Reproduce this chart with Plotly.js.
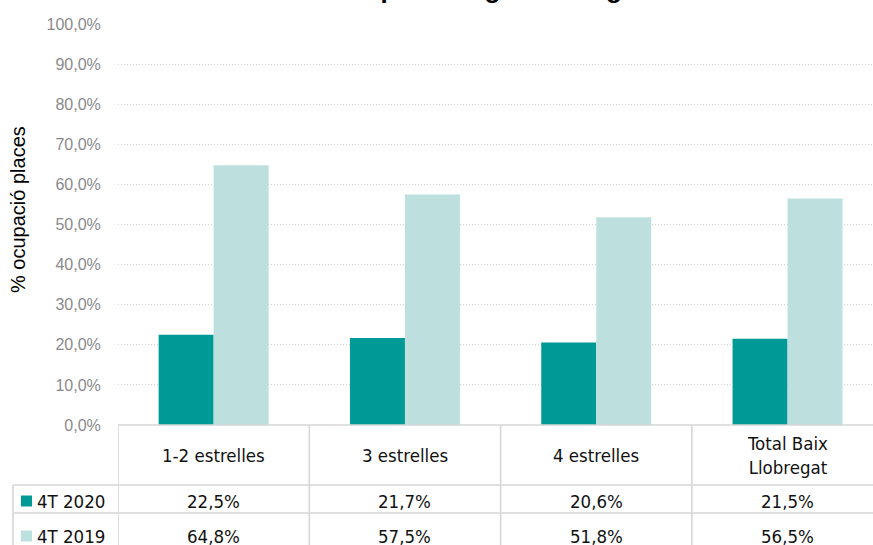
<!DOCTYPE html>
<html>
<head>
<meta charset="utf-8">
<script src="https://cdn.plot.ly/plotly-3.0.1.min.js"></script>
<style>html,body{margin:0;padding:0;background:#fff;overflow:hidden}#chart{width:873px;height:545px}</style>
</head>
<body>
<div id="chart"></div>
<script>
// ---- data ----
const categories = ["1-2 estrelles", "3 estrelles", "4 estrelles", "Total Baix Llobregat"];
const categoryLabels = ["1-2 estrelles", "3 estrelles", "4 estrelles", "Total Baix<br>Llobregat"];
const seriesNames = ["4T 2020", "4T 2019"];
const values2020 = [22.5, 21.7, 20.6, 21.5];
const values2019 = [64.8, 57.5, 51.8, 56.5];
const yTickValues = [0, 10, 20, 30, 40, 50, 60, 70, 80, 90, 100];
const chartTitle = "% ocupació segons categoria";
const yTitle = "% ocupació places";

// ---- styles ----
const colors = ["#009a96", "#bde0df"];
const tableFont = "DejaVu Sans Condensed, DejaVu Sans, sans-serif";
const lineColor = "#d6d6d6";

const W = 873, H = 545;
const margin = {l: 118, r: 0, t: 24, b: 120};
const plotH = H - margin.t - margin.b;
const plotW = W - margin.l - margin.r;
const py = p => (H - margin.b - p) / plotH;   // page y px -> paper
const px = p => (p - margin.l) / plotW;       // page x px -> paper

const fmt = v => v.toFixed(1).replace('.', ',') + '%';
const series = [values2020, values2019];

const traces = series.map((vals, i) => ({
  type: 'bar', x: categories, y: vals, name: seriesNames[i],
  marker: {color: colors[i]}, hoverinfo: 'skip'
}));

const annotations = [];
const shapes = [];

// title (mostly above the visible area)
annotations.push({text: '<b>' + chartTitle + '</b>', xref: 'paper', yref: 'paper',
  x: px(487), y: py(-11.5), xanchor: 'center', yanchor: 'middle', showarrow: false,
  font: {family: 'Liberation Sans, Arial, sans-serif', size: 26, color: '#000'}});

// y axis title
annotations.push({text: yTitle, xref: 'paper', yref: 'paper', x: px(18), y: py(209),
  xanchor: 'center', yanchor: 'middle', textangle: -90, showarrow: false,
  font: {family: 'Liberation Sans, Arial, sans-serif', size: 20, color: '#000'}});

// table header
categories.forEach((c, i) => {
  annotations.push({text: categoryLabels[i], xref: 'x', yref: 'paper', x: c, y: py(455),
    xanchor: 'center', yanchor: 'middle', showarrow: false,
    font: {family: tableFont, size: 18.5, color: '#111'}});
});
// table rows
const rowCenters = [501, 536];
series.forEach((vals, r) => {
  vals.forEach((v, i) => {
    annotations.push({text: fmt(v), xref: 'x', yref: 'paper', x: categories[i], y: py(rowCenters[r]),
      xanchor: 'center', yanchor: 'middle', showarrow: false,
      font: {family: tableFont, size: 18.5, color: '#111'}});
  });
  annotations.push({text: seriesNames[r], xref: 'paper', yref: 'paper', x: px(35), y: py(rowCenters[r]),
    xanchor: 'left', yanchor: 'middle', showarrow: false,
    font: {family: tableFont, size: 18.5, color: '#111'}});
  shapes.push({type: 'rect', xref: 'paper', yref: 'paper', x0: px(21), x1: px(32),
    y0: py(rowCenters[r] - 5.5), y1: py(rowCenters[r] + 5.5), fillcolor: colors[r], line: {width: 0}});
});

// table lines
const hl = (y, xStart) => shapes.push({type: 'line', xref: 'paper', yref: 'paper', x0: px(xStart), x1: 1.02,
  y0: py(y), y1: py(y), line: {color: lineColor, width: 1.6}});
hl(425, 118); hl(485, 13); hl(513, 13);
shapes.push({type: 'line', xref: 'paper', yref: 'paper', x0: px(13), x1: px(13),
  y0: py(485), y1: py(560), line: {color: lineColor, width: 1.6}});
for (let k = 0; k <= categories.length - 1; k++) {
  shapes.push({type: 'line', xref: 'x', yref: 'paper', x0: k - 0.5, x1: k - 0.5,
    y0: 0, y1: py(560), line: {color: lineColor, width: 1.6}});
}

const layout = {
  width: W, height: H, margin: margin,
  paper_bgcolor: '#fff', plot_bgcolor: '#fff',
  showlegend: false, barmode: 'group', bargap: 0.425, bargroupgap: 0,
  separators: ',.',
  xaxis: {type: 'category', range: [-0.5, -0.5 + plotW / 191.3], showticklabels: false,
    showgrid: false, zeroline: false, showline: false, fixedrange: true},
  yaxis: {range: [0, 100], tickvals: yTickValues, ticktext: yTickValues.map(fmt),
    showgrid: true, gridcolor: '#d4d4d4', griddash: '1px,2px', gridwidth: 1,
    zeroline: false, showline: false, ticks: 'outside', ticklen: 13, tickcolor: 'rgba(0,0,0,0)',
    tickfont: {family: 'Liberation Sans, Arial, sans-serif', size: 16, color: '#8a8a8a'}},
  annotations: annotations, shapes: shapes
};

Plotly.newPlot('chart', traces, layout, {displayModeBar: false, staticPlot: true});
</script>
</body>
</html>
